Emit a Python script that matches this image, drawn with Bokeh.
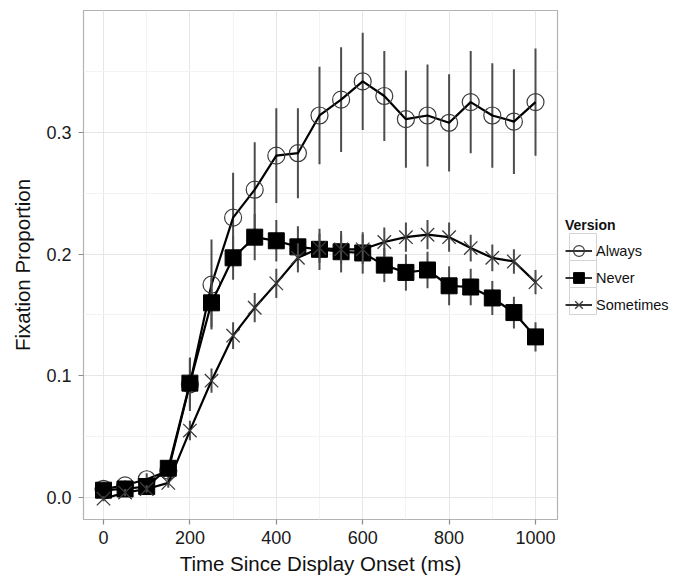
from bokeh.plotting import figure
from bokeh.layouts import row
from bokeh.models import Range1d, FixedTicker, NumeralTickFormatter, Legend, LegendItem, ColumnDataSource
from bokeh.embed import file_html
from bokeh.resources import INLINE

time_ms = [0, 50, 100, 150, 200, 250, 300, 350, 400, 450, 500, 550, 600, 650, 700, 750, 800, 850, 900, 950, 1000]

always = [0.007, 0.010, 0.015, 0.022, 0.093, 0.175, 0.230, 0.253, 0.281, 0.283, 0.314, 0.327, 0.342, 0.330,
          0.311, 0.314, 0.308, 0.325, 0.314, 0.309, 0.325]
always_err = [0.003, 0.004, 0.005, 0.006, 0.022, 0.037, 0.037, 0.039, 0.039, 0.037, 0.040, 0.043, 0.040, 0.037,
              0.040, 0.042, 0.040, 0.042, 0.043, 0.043, 0.044]

never = [0.006, 0.007, 0.009, 0.024, 0.094, 0.160, 0.197, 0.214, 0.211, 0.206, 0.204, 0.202, 0.201, 0.191,
         0.185, 0.187, 0.174, 0.173, 0.164, 0.152, 0.132]
never_err = [0.003, 0.003, 0.004, 0.006, 0.020, 0.020, 0.018, 0.019, 0.017, 0.017, 0.017, 0.017, 0.017, 0.014,
             0.015, 0.015, 0.016, 0.015, 0.014, 0.013, 0.012]

sometimes = [-0.001, 0.004, 0.007, 0.012, 0.055, 0.096, 0.133, 0.156, 0.176, 0.197, 0.205, 0.204, 0.204, 0.210,
             0.214, 0.216, 0.214, 0.205, 0.197, 0.194, 0.177]
sometimes_err = [0.002, 0.003, 0.003, 0.004, 0.008, 0.010, 0.011, 0.012, 0.012, 0.012, 0.012, 0.012, 0.012, 0.012,
                 0.012, 0.012, 0.012, 0.011, 0.011, 0.010, 0.010]

series_names = ["Always", "Never", "Sometimes"]
x_ticks = [0, 200, 400, 600, 800, 1000]
x_minor = [100, 300, 500, 700, 900]
y_ticks = [0.0, 0.1, 0.2, 0.3]
y_minor = [0.05, 0.15, 0.25, 0.35]

FONT = "Liberation Sans"
H = 579
TOP, BOTTOM = 10, 60

p = figure(width=561, height=H, output_backend="svg", toolbar_location=None,
           x_range=Range1d(-46.3, 1050.9), y_range=Range1d(-0.0181, 0.4003),
           min_border_left=83, min_border_top=TOP, min_border_right=4, min_border_bottom=BOTTOM)

p.outline_line_color = "#b3b3b3"
p.outline_line_width = 1.2
p.background_fill_color = "white"
p.border_fill_color = "white"

p.xaxis.ticker = FixedTicker(ticks=x_ticks, minor_ticks=x_minor)
p.yaxis.ticker = FixedTicker(ticks=y_ticks, minor_ticks=y_minor)
p.yaxis.formatter = NumeralTickFormatter(format="0.0")

for ax in (p.xaxis[0], p.yaxis[0]):
    ax.axis_line_color = None
    ax.major_tick_line_color = "#8c8c8c"
    ax.major_tick_line_width = 1.2
    ax.major_tick_out = 5
    ax.major_tick_in = 0
    ax.minor_tick_line_color = None
    ax.major_label_text_font = FONT
    ax.major_label_text_font_size = "18px"
    ax.major_label_text_color = "#1a1a1a"
    ax.axis_label_text_font = FONT
    ax.axis_label_text_font_size = "20.5px"
    ax.axis_label_text_font_style = "normal"
    ax.axis_label_text_color = "#111111"

p.xaxis.axis_label = "Time Since Display Onset (ms)"
p.yaxis.axis_label = "Fixation Proportion"
p.xaxis.major_label_standoff = 6
p.xaxis.axis_label_standoff = 5
p.yaxis.major_label_standoff = 7
p.yaxis.axis_label_standoff = 9

p.xgrid.grid_line_color = "#e6e6e6"
p.ygrid.grid_line_color = "#e6e6e6"
p.xgrid.minor_grid_line_color = "#f3f3f3"
p.ygrid.minor_grid_line_color = "#f3f3f3"

ERR_COLOR = "#4d4d4d"
styles = {
    "Always": dict(marker="circle", size=17, fill_color=None, line_color="#3a3a3a", line_width=1.2),
    "Never": dict(marker="square", size=16, fill_color="black", line_color="black", line_width=1),
    "Sometimes": dict(marker="x", size=19, line_color="#3a3a3a", line_width=1.3),
}
legend_styles = {
    "Always": dict(marker="circle", size=15, fill_color=None, line_color="#3a3a3a", line_width=1.2),
    "Never": dict(marker="square", size=14, fill_color="black", line_color="black", line_width=1),
    "Sometimes": dict(marker="x", size=17, line_color="#3a3a3a", line_width=1.3),
}

sources = {}
for name, vals, errs in zip(series_names, [always, never, sometimes], [always_err, never_err, sometimes_err]):
    src = ColumnDataSource(dict(x=time_ms, y=vals,
                                lo=[v - e for v, e in zip(vals, errs)],
                                hi=[v + e for v, e in zip(vals, errs)]))
    sources[name] = src
    p.segment(x0="x", y0="lo", x1="x", y1="hi", source=src, line_color=ERR_COLOR, line_width=2)
    p.line("x", "y", source=src, line_color="black", line_width=2.2)
    p.scatter("x", "y", source=src, **styles[name])

# ---- legend panel (separate narrow figure whose data units are pixels) ----
LW = 688 - 561
FRAME_H = H - TOP - BOTTOM
p2 = figure(width=LW, height=H, output_backend="svg", toolbar_location=None,
            x_range=Range1d(0, LW), y_range=Range1d(0, FRAME_H),
            min_border_left=0, min_border_right=0, min_border_top=TOP, min_border_bottom=BOTTOM,
            x_axis_location=None, y_axis_location=None)
p2.grid.visible = False
p2.outline_line_color = None
p2.border_fill_color = "white"
p2.background_fill_color = "white"

LEG_X, LEG_Y, PAD, KEY = 4, 201, 4, 27

# ggplot-style legend key borders
p2.quad(left=[LEG_X + PAD] * 3, right=[LEG_X + PAD + KEY] * 3,
        bottom=[LEG_Y + PAD + i * KEY for i in range(3)],
        top=[LEG_Y + PAD + (i + 1) * KEY for i in range(3)],
        fill_color="white", line_color="#d4d4d4", line_width=1)

items = []
for name in series_names:
    ln = p2.line("x", "y", source=sources[name], line_color="black", line_width=1.6, visible=False)
    sc = p2.scatter("x", "y", source=sources[name], visible=False, **legend_styles[name])
    items.append(LegendItem(label=name, renderers=[ln, sc]))

legend = Legend(items=items, title="Version", location=(LEG_X, LEG_Y))
legend.title_text_font = FONT
legend.title_text_font_style = "bold"
legend.title_text_font_size = "14px"
legend.title_text_color = "#111111"
legend.title_standoff = 4
legend.label_text_font = FONT
legend.label_text_font_size = "14.5px"
legend.label_text_color = "#111111"
legend.label_height = KEY
legend.border_line_color = None
legend.background_fill_alpha = 0
legend.glyph_width = KEY
legend.glyph_height = KEY
legend.spacing = 0
legend.padding = PAD
legend.label_standoff = 4
legend.margin = 0
p2.add_layout(legend, "center")

layout = row(p, p2, spacing=0)
open("out.html", "w").write(file_html(layout, INLINE))
